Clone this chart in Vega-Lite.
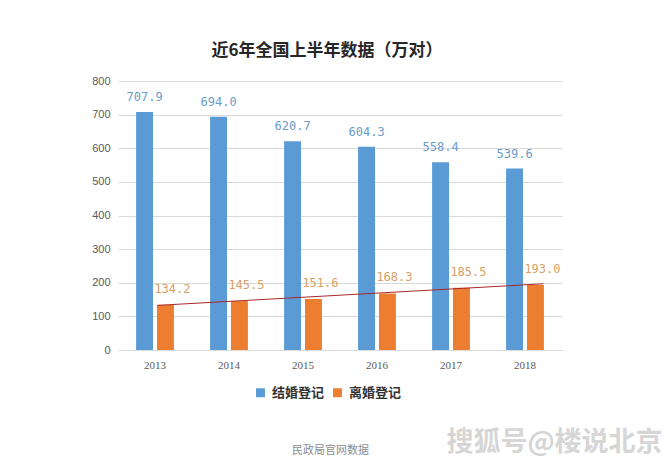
{
  "$schema": "https://vega.github.io/schema/vega-lite/v6.json",
  "autosize": "none",
  "width": 444,
  "height": 269,
  "padding": {"left": 118, "top": 81, "right": 108, "bottom": 115},
  "background": "white",
  "config": {
    "view": {"stroke": null},
    "font": "Liberation Sans",
    "title": {"offset": 15, "baseline": "bottom"}
  },
  "title": {
    "text": "近6年全国上半年数据（万对）",
    "font": "Noto Sans CJK SC",
    "fontSize": 17,
    "fontWeight": "bold",
    "color": "#262626",
    "anchor": "middle",
    "dx": -13,
    "offset": 15
  },
  "data": {
    "values": [
      {"year": 2013, "type": "结婚登记", "value": 707.9},
      {"year": 2014, "type": "结婚登记", "value": 694.0},
      {"year": 2015, "type": "结婚登记", "value": 620.7},
      {"year": 2016, "type": "结婚登记", "value": 604.3},
      {"year": 2017, "type": "结婚登记", "value": 558.4},
      {"year": 2018, "type": "结婚登记", "value": 539.6},
      {"year": 2013, "type": "离婚登记", "value": 134.2},
      {"year": 2014, "type": "离婚登记", "value": 145.5},
      {"year": 2015, "type": "离婚登记", "value": 151.6},
      {"year": 2016, "type": "离婚登记", "value": 168.3},
      {"year": 2017, "type": "离婚登记", "value": 185.5},
      {"year": 2018, "type": "离婚登记", "value": 193.0}
    ]
  },
  "encoding": {
    "y": {
      "field": "value", "type": "quantitative",
      "scale": {"domain": [0, 800], "nice": false},
      "axis": {
        "values": [0, 100, 200, 300, 400, 500, 600, 700, 800],
        "labelOverlap": false,
        "title": null, "domain": false, "ticks": false,
        "labelFontSize": 11, "labelColor": "#595959", "labelPadding": 8,
        "gridColor": "#d9d9d9"
      }
    }
  },
  "layer": [
    {
      "layer": [
        {
          "mark": {"type": "bar"},
          "encoding": {
            "x": {
              "field": "year", "type": "ordinal",
              "scale": {"paddingInner": 0, "paddingOuter": 0},
              "axis": {
                "labelAngle": 0, "labelFontSize": 11, "labelColor": "#595959",
                "labelFont": "Liberation Serif",
                "ticks": false, "domainColor": "#d9d9d9", "labelPadding": 9,
                "title": "民政局官网数据", "titleFont": "Noto Sans CJK SC",
                "titleFontSize": 11, "titleFontWeight": "normal", "titleColor": "#8c8c8c",
                "titleX": 212, "titleY": 100, "titleBaseline": "middle"
              }
            },
            "xOffset": {
              "field": "type", "type": "nominal",
              "scale": {"domain": ["结婚登记", "离婚登记"], "paddingInner": 0.19, "paddingOuter": 0.866}
            },
            "color": {
              "field": "type", "type": "nominal",
              "scale": {"domain": ["结婚登记", "离婚登记"], "range": ["#5b9bd5", "#ed7d31"]},
              "legend": {
                "title": null, "orient": "none", "direction": "horizontal",
                "legendX": 136, "legendY": 305,
                "symbolType": "square", "symbolSize": 80, "symbolStrokeWidth": 0,
                "labelFont": "Noto Sans CJK SC", "labelFontSize": 13, "labelFontWeight": "bold",
                "labelColor": "#333333", "labelOffset": 5, "columnPadding": 6
              }
            }
          }
        },
        {
          "transform": [{"filter": "datum.type === '结婚登记'"}],
          "mark": {"type": "text", "dy": -15, "font": "DejaVu Sans Mono", "fontSize": 12, "color": "#6a9cca"},
          "encoding": {
            "x": {"field": "year", "type": "ordinal"},
            "xOffset": {"field": "type", "type": "nominal"},
            "text": {"field": "value", "type": "quantitative", "format": ".1f"}
          }
        },
        {
          "transform": [{"filter": "datum.type === '离婚登记'"}],
          "mark": {"type": "text", "dy": -16, "dx": 7, "font": "DejaVu Sans Mono", "fontSize": 12, "color": "#d9a066"},
          "encoding": {
            "x": {"field": "year", "type": "ordinal"},
            "xOffset": {"field": "type", "type": "nominal"},
            "text": {"field": "value", "type": "quantitative", "format": ".1f"}
          }
        }
      ]
    },
    {
      "transform": [
        {"filter": "datum.type === '离婚登记'"},
        {"regression": "value", "on": "year", "extent": [2013.03, 2018.25]}
      ],
      "mark": {"type": "line", "color": "#a8282a", "strokeWidth": 1},
      "encoding": {
        "x": {
          "field": "year", "type": "quantitative",
          "scale": {"domain": [2012.5, 2018.5], "nice": false, "zero": false},
          "axis": {
            "orient": "top", "labels": false, "ticks": false, "domain": false, "grid": false,
            "title": "搜狐号@楼说北京", "titleFont": "Noto Sans CJK SC", "titleFontSize": 27,
            "titleFontWeight": "bold", "titleColor": "#d6d6d6",
            "titleX": 436, "titleY": 361, "titleBaseline": "middle", "titleAlign": "center"
          }
        }
      }
    }
  ],
  "resolve": {"scale": {"x": "independent"}, "axis": {"x": "independent"}}
}
